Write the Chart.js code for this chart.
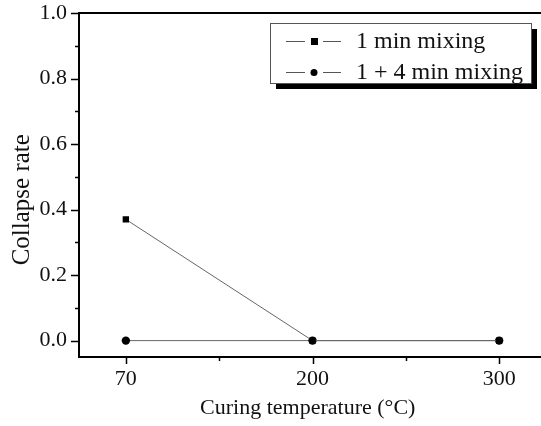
<!DOCTYPE html>
<html>
<head>
<meta charset="utf-8">
<style>
  html, body { margin: 0; padding: 0; background: #fff; }
  #wrap { width: 541px; height: 426px; }
</style>
<script src="https://cdn.jsdelivr.net/npm/chart.js@4"></script>
</head>
<body>
<div id="wrap"><canvas id="chart" width="541" height="426"></canvas></div>
<script>
// données
const temperatures = ['70', '200', '300'];
const mix1 = [0.37, 0, 0];
const mix14 = [0, 0, 0];
const seriesNames = ['1 min mixing', '1 + 4 min mixing'];
const yTicks = [0, 0.2, 0.4, 0.6, 0.8, 1.0];
const yTitle = 'Collapse rate';

const FONT = '"Liberation Serif", "Times New Roman", serif';

// axes encadrés + petites graduations, à la Origin
const framePlugin = {
    id: 'frame',
    afterDraw(chart) {
        const { ctx, chartArea: a, scales } = chart;
        ctx.save();
        ctx.strokeStyle = '#000';
        ctx.lineWidth = 2;
        ctx.beginPath();
        ctx.moveTo(a.left, a.bottom);
        ctx.lineTo(a.left, a.top);
        ctx.lineTo(chart.width, a.top);
        ctx.moveTo(a.left - 1, a.bottom);
        ctx.lineTo(chart.width, a.bottom);
        ctx.stroke();

        ctx.lineWidth = 1.5;
        ctx.beginPath();
        // graduations y
        for (let v = 0; v <= 1.0001; v += 0.1) {
            const y = Math.round(scales.y.getPixelForValue(v)) + 0.5;
            const major = Math.round(v * 10) % 2 === 0;
            ctx.moveTo(a.left, y);
            ctx.lineTo(a.left - (major ? 8 : 4), y);
        }
        // graduations x
        for (let i = 0; i < temperatures.length - 0.5; i += 0.5) {
            const x = Math.round(scales.x.getPixelForValue(i)) + 0.5;
            const major = i % 1 === 0;
            ctx.moveTo(x, a.bottom);
            ctx.lineTo(x, a.bottom + (major ? 7 : 4));
        }
        ctx.stroke();

        // titre de l'axe y, un peu plus bas que le centre
        ctx.translate(22, scales.y.getPixelForValue(0.43));
        ctx.rotate(-Math.PI / 2);
        ctx.font = '25px ' + FONT;
        ctx.fillStyle = '#111';
        ctx.textAlign = 'center';
        ctx.textBaseline = 'middle';
        ctx.fillText(yTitle, 0, 0);
        ctx.restore();
    }
};

// légende avec ombre portée
const legendPlugin = {
    id: 'boxLegend',
    afterDraw(chart) {
        const { ctx } = chart;
        const x0 = 270, y0 = 23, w = 261, h = 60;
        ctx.save();
        ctx.fillStyle = '#000';
        ctx.fillRect(x0 + 6, y0 + 6, w, h);
        ctx.fillStyle = '#fff';
        ctx.fillRect(x0, y0, w, h);
        ctx.strokeStyle = '#555';
        ctx.lineWidth = 1;
        ctx.strokeRect(x0 + 0.5, y0 + 0.5, w, h);

        ctx.font = '24px ' + FONT;
        ctx.textBaseline = 'middle';
        seriesNames.forEach((name, i) => {
            const y = y0 + 18 + i * 31;
            ctx.strokeStyle = '#555';
            ctx.lineWidth = 1;
            ctx.beginPath();
            ctx.moveTo(x0 + 16, y + 0.5);
            ctx.lineTo(x0 + 35, y + 0.5);
            ctx.moveTo(x0 + 53, y + 0.5);
            ctx.lineTo(x0 + 71, y + 0.5);
            ctx.stroke();
            ctx.fillStyle = '#000';
            if (i === 0) {
                ctx.fillRect(x0 + 41, y - 3, 7, 7);
            } else {
                ctx.beginPath();
                ctx.arc(x0 + 44, y + 0.5, 3.5, 0, Math.PI * 2);
                ctx.fill();
            }
            ctx.fillStyle = '#111';
            ctx.fillText(name, x0 + 86, y + 1);
        });
        ctx.restore();
    }
};

const toPoints = arr => arr.map((v, i) => ({ x: i, y: v }));

new Chart(document.getElementById('chart'), {
    type: 'line',
    data: {
        datasets: [{
            label: seriesNames[0],
            data: toPoints(mix1),
            borderColor: '#666',
            borderWidth: 1,
            pointStyle: 'rect',
            pointRadius: 4.5,
            pointBackgroundColor: '#000',
            pointBorderColor: '#000',
            pointBorderWidth: 0,
            order: 0
        }, {
            label: seriesNames[1],
            data: toPoints(mix14),
            borderColor: '#666',
            borderWidth: 1,
            pointStyle: 'circle',
            pointRadius: 4.2,
            pointBackgroundColor: '#000',
            pointBorderColor: '#000',
            pointBorderWidth: 0,
            order: 1
        }]
    },
    options: {
        responsive: false,
        animation: false,
        layout: { padding: { top: 13, right: 0, left: 0, bottom: 0 } },
        plugins: {
            legend: { display: false },
            tooltip: { enabled: false }
        },
        scales: {
            x: {
                type: 'linear',
                min: -0.251,
                max: 2.2,
                afterFit: s => {
                    s.height = 69;
                    s.paddingLeft = 0;
                    s.paddingRight = 0;
                },
                grid: { display: false, drawTicks: false },
                border: { display: false },
                afterBuildTicks: s => {
                    s.ticks = temperatures.map((t, i) => ({ value: i }));
                },
                ticks: {
                    padding: 9,
                    color: '#111',
                    font: { family: FONT, size: 22 },
                    callback: v => temperatures[v]
                },
                title: {
                    display: true,
                    text: 'Curing temperature (\u00B0C)',
                    color: '#111',
                    font: { family: FONT, size: 22 },
                    padding: { top: 0, bottom: 5 }
                }
            },
            y: {
                min: -0.05,
                max: 1.0,
                afterFit: s => {
                    s.width = 79;
                    s.paddingTop = 0;
                    s.paddingBottom = 0;
                },
                grid: { display: false, drawTicks: false },
                border: { display: false },
                afterBuildTicks: s => {
                    s.ticks = yTicks.map(v => ({ value: v }));
                },
                ticks: {
                    padding: 12,
                    color: '#111',
                    font: { family: FONT, size: 22 },
                    callback: v => v.toFixed(1)
                }
            }
        }
    },
    plugins: [framePlugin, legendPlugin]
});
</script>
</body>
</html>
